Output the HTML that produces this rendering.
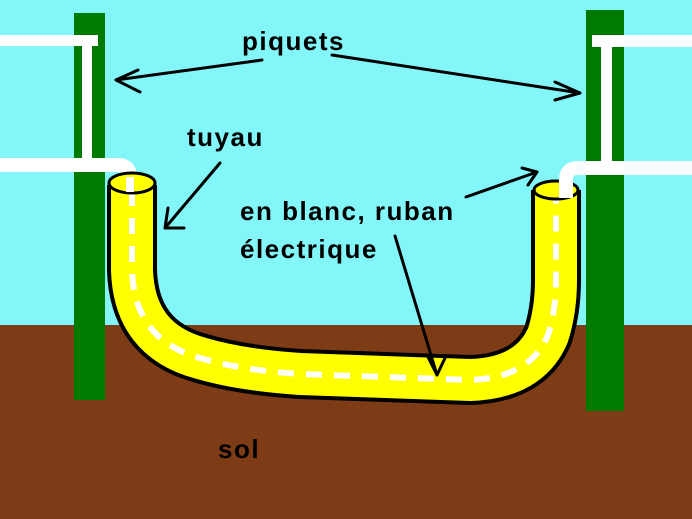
<!DOCTYPE html>
<html><head><style>
html,body{margin:0;padding:0;}
body{width:692px;height:519px;overflow:hidden;background:#82f6f8;}
svg{display:block;}
text{font-family:"Liberation Sans",sans-serif;font-size:26px;font-weight:bold;letter-spacing:1.5px;fill:#000;}
</style></head><body>
<svg width="692" height="519" viewBox="0 0 692 519">
<rect x="0" y="0" width="692" height="325" fill="#82f6f8"/>
<rect x="0" y="325" width="692" height="194" fill="#7d3b16"/>
<rect x="74" y="13" width="31" height="387" fill="#007a00"/>
<rect x="586" y="10" width="38" height="401" fill="#007a00"/>
<rect x="0" y="35" width="98" height="11" fill="#fff"/>
<rect x="82" y="46" width="10" height="114" fill="#fff"/>
<path d="M0 165 H118 Q130 165 130 177 V192" stroke="#fff" stroke-width="14" fill="none"/>
<rect x="592" y="35" width="100" height="12" fill="#fff"/>
<rect x="601" y="47" width="11" height="115" fill="#fff"/>
<path d="M132 185 V270 Q134 340 200 358 Q240 370 300 374 L470 380 Q530 378 548 335 Q556 310 556 280 V190" stroke="#000" stroke-width="50" fill="none"/>
<path d="M132 185 V270 Q134 340 200 358 Q240 370 300 374 L470 380 Q530 378 548 335 Q556 310 556 280 V190" stroke="#ffff00" stroke-width="42" fill="none"/>
<path d="M132 190 V270 Q134 340 200 358 Q240 370 300 374 L470 380 Q530 378 548 335 Q556 310 556 280 V195" stroke="#fff" stroke-width="6" fill="none" stroke-dasharray="16 12"/>
<ellipse cx="132" cy="183" rx="23" ry="10" fill="#ffff00" stroke="#000" stroke-width="3"/>
<ellipse cx="556" cy="190" rx="22" ry="9" fill="#ffff00" stroke="#000" stroke-width="3"/>
<path d="M130 177 V192" stroke="#fff" stroke-width="8"/>
<path d="M692 168 H578 Q566 168 566 180 V198" stroke="#fff" stroke-width="14" fill="none"/>
<g stroke="#000" stroke-width="3" fill="none" stroke-linecap="round">
<path d="M262 60 L116 80 M116 80 L138 70 M116 80 L140 92"/>
<path d="M332 55 L580 93 M580 93 L555 82 M580 93 L555 100"/>
<path d="M220 163 L165 228 M165 228 L168 208 M165 228 L184 228"/>
<path d="M466 197 L537 172 M537 172 L522 168 M537 172 L528 185"/>
<path d="M395 236 L437 375 M437 375 L428 357 M437 375 L445 358"/>
</g>
<text x="242" y="50">piquets</text>
<text x="187" y="146">tuyau</text>
<text x="240" y="220">en blanc, ruban</text>
<text x="240" y="258">électrique</text>
<text x="218" y="458">sol</text>
</svg>
</body></html>
